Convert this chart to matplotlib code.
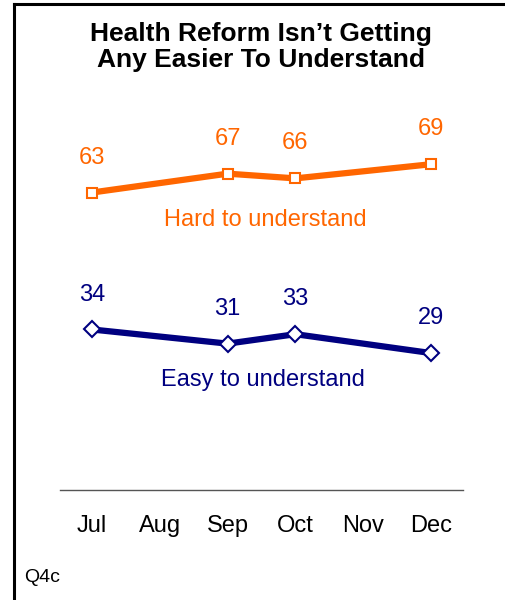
import matplotlib
matplotlib.use('Agg')
import matplotlib.pyplot as plt
from matplotlib.lines import Line2D

plt.rcParams['font.family'] = ['Liberation Sans', 'DejaVu Sans']

months = ['Jul', 'Aug', 'Sep', 'Oct', 'Nov', 'Dec']
hardX = [0, 2, 3, 5]
hardVals = [63, 67, 66, 69]
easyX = [0, 2, 3, 5]
easyVals = [34, 31, 33, 29]

orange = '#FF6600'
navy = '#000080'

fig = plt.figure(figsize=(5.06, 6.0), dpi=100)
ax = fig.add_axes([60 / 506, 1 - 490 / 600, 403 / 506, 390 / 600])

ax.plot(hardX, hardVals, color=orange, lw=4.5, marker='s', ms=7.5,
        mfc='white', mec=orange, mew=1.5, solid_joinstyle='miter')
ax.plot(easyX, easyVals, color=navy, lw=4.5, marker='D', ms=8,
        mfc='white', mec=navy, mew=1.5, solid_joinstyle='miter')

for x, v in zip(hardX, hardVals):
    ax.text(x, v + 7.4, str(v), color=orange, fontsize=17, ha='center', va='center')
for x, v in zip(easyX, easyVals):
    ax.text(x, v + 7.4, str(v), color=navy, fontsize=17, ha='center', va='center')

ax.text(2.55, 57.2, 'Hard to understand', color=orange, fontsize=17, ha='center', va='center')
ax.text(2.52, 23.2, 'Easy to understand', color=navy, fontsize=17, ha='center', va='center')

ax.set_xlim(-0.47, 5.47)
ax.set_ylim(0, 82.6)
ax.set_xticks(range(len(months)))
ax.set_xticklabels(months, fontsize=17)
ax.tick_params(axis='x', length=0, pad=18)
ax.set_yticks([])
for s in ['top', 'left', 'right']:
    ax.spines[s].set_visible(False)
ax.spines['bottom'].set_color('#555555')
ax.spines['bottom'].set_linewidth(1)

fig.text(261 / 506, 1 - 47 / 600, 'Health Reform Isn\u2019t Getting\nAny Easier To Understand',
         ha='center', va='center', fontsize=19, fontweight='bold', linespacing=1.1)
fig.text(24 / 506, 1 - 578 / 600, 'Q4c', ha='left', va='center', fontsize=14)

# frame on left and top
fig.add_artist(Line2D([14 / 506, 14 / 506], [0, 1 - 4 / 600], color='black', lw=2.2,
                      transform=fig.transFigure, solid_capstyle='projecting'))
fig.add_artist(Line2D([14 / 506, 1], [1 - 4 / 600, 1 - 4 / 600], color='black', lw=2.2,
                      transform=fig.transFigure, solid_capstyle='projecting'))

fig.savefig('out.png', dpi=100)
